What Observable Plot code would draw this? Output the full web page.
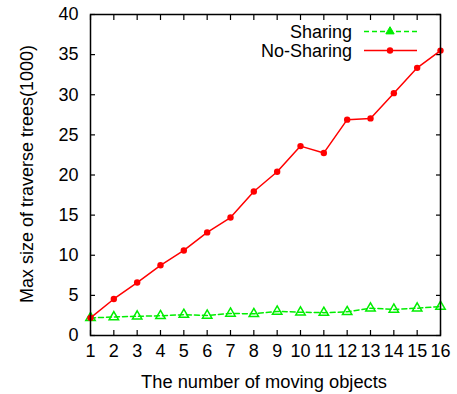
<!DOCTYPE html>
<html>
<head>
<meta charset="utf-8">
<script src="https://cdn.jsdelivr.net/npm/d3@7"></script>
<script src="https://cdn.jsdelivr.net/npm/@observablehq/plot@0.6"></script>
<style>
  html, body { margin: 0; padding: 0; background: #fff; }
  svg { font-family: "Liberation Sans", Arial, sans-serif; }
  svg g[aria-label$="tick label"], svg g[aria-label$="tick label"] text { font-size: 18px !important; }
</style>
</head>
<body>
<div id="chart"></div>
<script>
const objects = [1, 2, 3, 4, 5, 6, 7, 8, 9, 10, 11, 12, 13, 14, 15, 16];
const sharing = [2.2, 2.3, 2.4, 2.45, 2.6, 2.5, 2.75, 2.7, 3.0, 2.9, 2.85, 2.95, 3.4, 3.25, 3.4, 3.6];
const noSharing = [2.2, 4.55, 6.6, 8.75, 10.6, 12.85, 14.7, 17.95, 20.4, 23.6, 22.75, 26.9, 27.05, 30.2, 33.35, 35.5];
const yTicks = [0, 5, 10, 15, 20, 25, 30, 35, 40];
const seriesNames = ["Sharing", "No-Sharing"];
const seriesColors = ["#00ee00", "#ff0000"];

const shareData = objects.map((x, i) => ({x, y: sharing[i]}));
const noShareData = objects.map((x, i) => ({x, y: noSharing[i]}));

const plot = Plot.plot({
  width: 457,
  height: 394,
  marginLeft: 90,
  marginRight: 17,
  marginTop: 14,
  marginBottom: 59,
  style: {fontFamily: "Liberation Sans, Arial, sans-serif", fontSize: "18px", background: "#fff", color: "#000"},
  x: {domain: [1, 16]},
  y: {domain: [0, 40]},
  marks: [
    Plot.axisX(objects, {anchor: "bottom", tickSize: -5, tickPadding: 14, label: null, strokeWidth: 1.2}),
    Plot.axisX(objects, {anchor: "top", tickSize: -5, tickFormat: () => "", label: null, strokeWidth: 1.2}),
    Plot.axisY(yTicks, {anchor: "left", tickSize: -5, tickPadding: 17, label: null, strokeWidth: 1.2}),
    Plot.axisY(yTicks, {anchor: "right", tickSize: -5, tickFormat: () => "", label: null, strokeWidth: 1.2}),
    Plot.line(shareData, {x: "x", y: "y", stroke: seriesColors[0], strokeWidth: 1.5, strokeDasharray: "5,3"}),
    Plot.dot(shareData, {x: "x", y: "y", symbol: "triangle", r: 3.5, stroke: seriesColors[0], strokeWidth: 1.5, fill: "none"}),
    Plot.line(noShareData, {x: "x", y: "y", stroke: seriesColors[1], strokeWidth: 1.5}),
    Plot.dot(noShareData, {x: "x", y: "y", r: 3.2, fill: seriesColors[1], stroke: "none"}),
    Plot.frame({stroke: "#000", strokeWidth: 1.5})
  ]
});

const svg = d3.select(plot);

// axis labels
svg.append("text")
  .attr("x", 264).attr("y", 388)
  .attr("text-anchor", "middle")
  .style("font-size", "18.3px")
  .attr("fill", "#000")
  .text("The number of moving objects");
svg.append("text")
  .attr("transform", "translate(33,174) rotate(-90)")
  .attr("text-anchor", "middle")
  .style("font-size", "18px")
  .attr("fill", "#000")
  .text("Max size of traverse trees(1000)");

// legend
const lg = svg.append("g");
seriesNames.forEach((name, i) => {
  const y = 31.5 + i * 19;
  lg.append("text")
    .attr("x", 352).attr("y", y).attr("dy", "0.35em")
    .attr("text-anchor", "end").style("font-size", "18px").attr("fill", "#000")
    .text(name);
  lg.append("line")
    .attr("x1", 364).attr("x2", 417).attr("y1", y).attr("y2", y)
    .attr("stroke", seriesColors[i]).attr("stroke-width", 1.5)
    .attr("stroke-dasharray", i === 0 ? "5,3" : null);
  if (i === 0) {
    lg.append("path")
      .attr("d", d3.symbol(d3.symbolTriangle, 30)())
      .attr("transform", `translate(390,${y})`)
      .attr("fill", seriesColors[i]).attr("stroke", seriesColors[i]);
  } else {
    lg.append("circle").attr("cx", 390).attr("cy", y).attr("r", 3.2).attr("fill", seriesColors[i]);
  }
});

document.getElementById("chart").appendChild(plot);
</script>
</body>
</html>
